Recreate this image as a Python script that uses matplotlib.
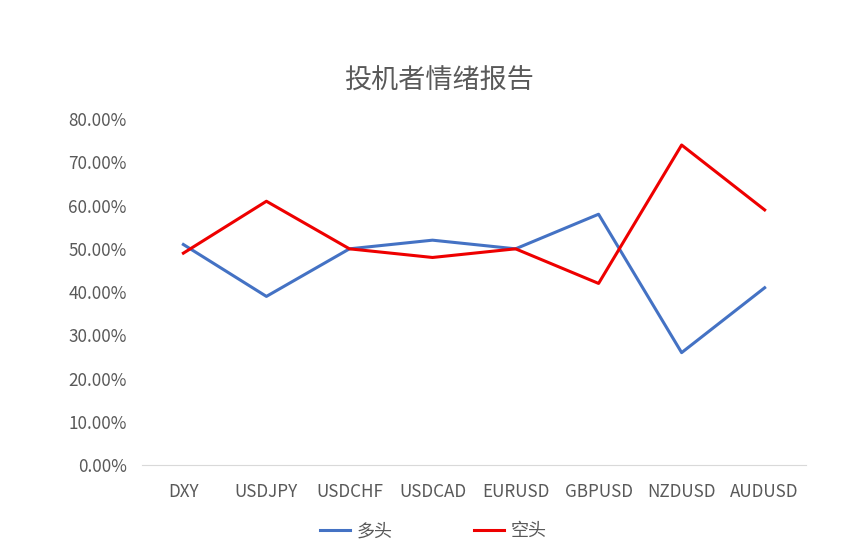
import matplotlib
matplotlib.use("Agg")
import matplotlib.pyplot as plt
from matplotlib.ticker import FuncFormatter

plt.rcParams['font.family'] = ['Noto Sans CJK SC', 'DejaVu Sans']

pairs = ["DXY", "USDJPY", "USDCHF", "USDCAD", "EURUSD", "GBPUSD", "NZDUSD", "AUDUSD"]
long_pct = [51, 39, 50, 52, 50, 58, 26, 41]
short_pct = [49, 61, 50, 48, 50, 42, 74, 59]

grey = "#595959"

fig = plt.figure(figsize=(8.65, 5.59), dpi=100)
ax = fig.add_axes([0.164, 0.168, 0.768, 0.619])

x = range(len(pairs))
ax.plot(x, long_pct, color="#4472C4", linewidth=2.2, label="多头")
ax.plot(x, short_pct, color="#EE0000", linewidth=2.2, label="空头")

ax.set_xlim(-0.5, len(pairs) - 0.5)
ax.set_ylim(0, 80)
ax.set_yticks(range(0, 81, 10))
ax.yaxis.set_major_formatter(FuncFormatter(lambda v, p: "%.2f%%" % v))
ax.set_xticks(list(x))
ax.set_xticklabels(pairs)

for s in ["top", "right", "left"]:
    ax.spines[s].set_visible(False)
ax.spines["bottom"].set_color("#D9D9D9")
ax.tick_params(axis="both", length=0, colors=grey, labelsize=12.3)
ax.tick_params(axis="x", pad=13)
ax.tick_params(axis="y", pad=11)

fig.text(0.508, 0.855, "投机者情绪报告", ha="center", va="center", fontsize=19.5, color=grey)

fig.legend(loc="center", bbox_to_anchor=(0.501, 0.05), ncol=2, frameon=False,
           fontsize=13, labelcolor=grey, handlelength=1.65, handletextpad=0.4,
           columnspacing=4.5)

fig.savefig("out.png", dpi=100)
